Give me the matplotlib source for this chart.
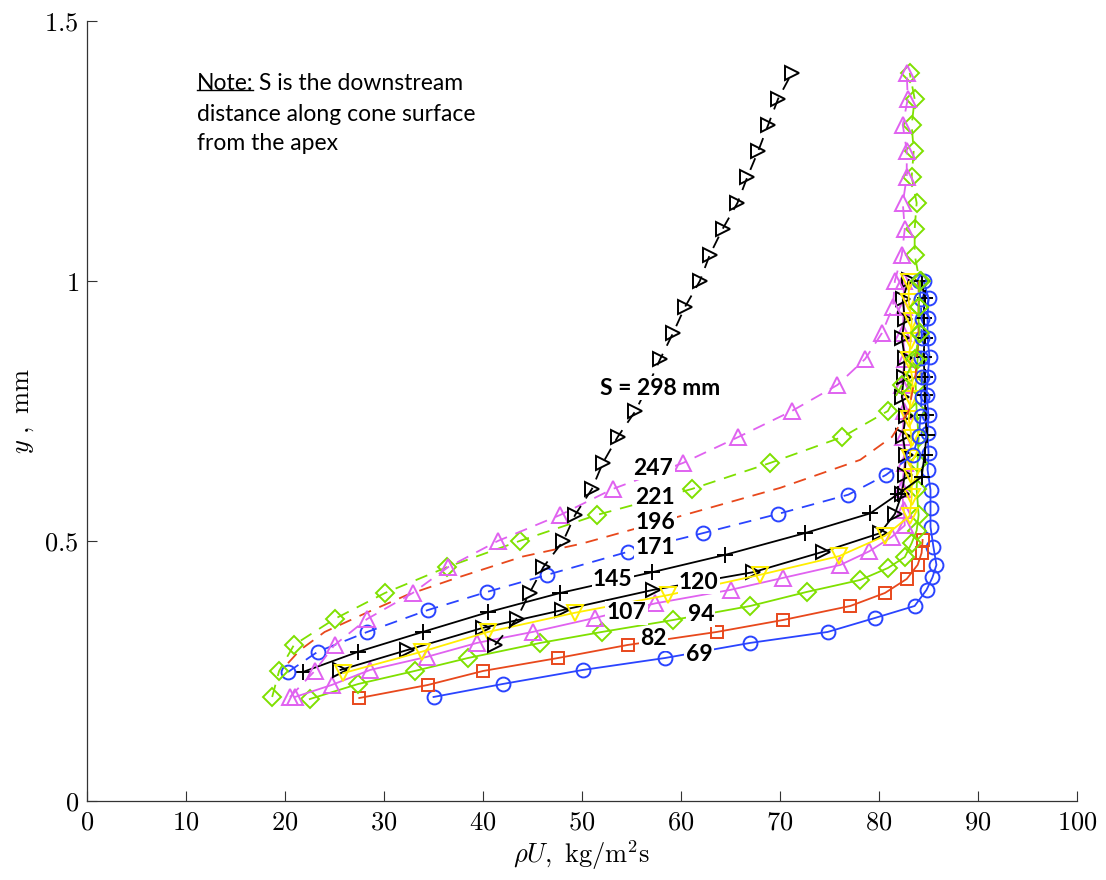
import matplotlib
matplotlib.use("Agg")
import matplotlib.pyplot as plt
from matplotlib.ticker import FuncFormatter, FixedLocator
from matplotlib.lines import Line2D

plt.rcParams['mathtext.fontset'] = 'cm'

# ---- mass-flux profiles rho*U (kg/m^2 s) versus wall distance y (mm) ----
y_69 = [0.200, 0.225, 0.252, 0.275, 0.304, 0.325, 0.352, 0.375, 0.406, 0.430, 0.454, 0.488, 0.527,
        0.563, 0.598, 0.637, 0.670, 0.708, 0.742, 0.780, 0.815, 0.854, 0.890, 0.929, 0.967, 1.000]
x_69 = [35.0, 42.0, 50.1, 58.4, 67.0, 74.8, 79.6, 83.6, 84.8, 85.4, 85.8, 85.5, 85.2,
        85.2, 85.2, 84.9, 85.0, 84.9, 85.0, 84.8, 84.9, 85.1, 84.9, 84.9, 85.0, 84.5]

y_82 = [0.198, 0.223, 0.250, 0.275, 0.300, 0.325, 0.348, 0.375, 0.400, 0.427, 0.454, 0.477, 0.502]
x_82 = [27.5, 34.4, 40.0, 47.6, 54.6, 63.6, 70.3, 77.1, 80.6, 82.8, 83.9, 84.3, 84.4]

y_94 = [0.196, 0.225, 0.250, 0.275, 0.304, 0.325, 0.348, 0.375, 0.402, 0.425, 0.448, 0.469, 0.496,
        0.520, 0.550, 0.600, 0.650, 0.700, 0.750, 0.800, 0.850, 0.900, 0.950, 1.000]
x_94 = [22.5, 27.4, 33.1, 38.5, 45.8, 52.0, 59.2, 67.0, 72.7, 78.1, 80.9, 82.6, 83.3,
        83.8, 84.0, 83.8, 83.9, 84.0, 83.8, 83.7, 83.9, 84.0, 84.0, 84.2]

y_107 = [0.200, 0.223, 0.252, 0.277, 0.304, 0.325, 0.352, 0.380, 0.406, 0.429, 0.454, 0.480, 0.508,
         0.530, 0.560, 0.600, 0.650, 0.700, 0.750, 0.800, 0.850, 0.900, 0.950, 1.000]
x_107 = [21.0, 24.7, 28.6, 34.3, 39.4, 45.0, 51.3, 57.4, 65.0, 70.3, 76.1, 79.0, 81.3,
         82.6, 82.5, 82.3, 82.6, 82.4, 82.5, 82.3, 82.6, 82.4, 82.5, 82.5]

y_120a = [0.252, 0.290, 0.333, 0.367, 0.406, 0.440, 0.479, 0.515, 0.552, 0.590, 0.627, 0.665, 0.702,
          0.740, 0.777, 0.815, 0.852, 0.890, 0.927, 0.965, 1.002]
x_120a = [25.6, 32.3, 40.0, 48.0, 57.2, 67.3, 74.3, 80.1, 81.6, 82.3, 82.6, 82.7, 82.4,
          82.7, 82.3, 82.5, 82.6, 82.3, 82.6, 82.4, 83.0]

y_120b = [0.246, 0.287, 0.325, 0.362, 0.396, 0.435, 0.471, 0.510, 0.548, 0.585, 0.623, 0.660, 0.698,
          0.735, 0.773, 0.810, 0.848, 0.885, 0.923, 0.960, 0.998]
x_120b = [25.9, 33.8, 40.5, 49.3, 58.7, 68.0, 76.0, 80.6, 83.1, 83.3, 83.3, 83.1, 83.3,
          83.0, 83.2, 83.4, 83.0, 83.2, 83.3, 83.0, 83.0]

y_145 = [0.248, 0.287, 0.325, 0.363, 0.400, 0.440, 0.473, 0.515, 0.553, 0.590, 0.623, 0.665, 0.704,
         0.742, 0.780, 0.815, 0.854, 0.890, 0.929, 0.967, 1.000]
x_145 = [21.8, 27.4, 33.9, 40.5, 47.8, 57.1, 64.4, 72.5, 79.1, 81.9, 84.3, 84.6, 84.8,
         84.7, 84.6, 84.6, 84.5, 84.6, 84.5, 84.6, 84.3]

y_171 = [0.248, 0.287, 0.325, 0.367, 0.402, 0.435, 0.479, 0.515, 0.552, 0.589, 0.627, 0.665, 0.702,
         0.740, 0.777, 0.815, 0.852, 0.890, 0.927, 0.965, 1.000]
x_171 = [20.3, 23.3, 28.3, 34.4, 40.4, 46.5, 54.6, 62.2, 69.8, 76.9, 80.7, 83.4, 84.0,
         84.2, 84.3, 84.3, 84.2, 84.3, 84.3, 84.2, 84.0]

y_196 = [0.265, 0.290, 0.325, 0.360, 0.396, 0.430, 0.470, 0.495, 0.546, 0.602, 0.656, 0.700,
         0.750, 0.820, 0.900, 1.000]
x_196 = [20.3, 21.5, 24.0, 28.0, 32.3, 37.5, 44.0, 50.0, 59.6, 70.0, 78.1, 81.3,
         83.0, 83.7, 84.0, 84.0]

y_221 = [0.20, 0.25, 0.30, 0.35, 0.40, 0.45, 0.50, 0.55, 0.60, 0.65, 0.70, 0.75, 0.80,
         0.85, 0.90, 0.95, 1.00, 1.05, 1.10, 1.15, 1.20, 1.25, 1.30, 1.35, 1.40]
x_221 = [18.7, 19.4, 20.9, 25.0, 30.1, 36.4, 43.7, 51.5, 61.1, 69.0, 76.3, 80.9, 82.3,
         83.6, 84.1, 84.0, 84.1, 83.6, 83.6, 83.8, 83.3, 83.5, 83.3, 83.6, 83.1]

y_247 = [0.20, 0.25, 0.30, 0.35, 0.40, 0.45, 0.50, 0.55, 0.60, 0.65, 0.70, 0.75, 0.80,
         0.85, 0.90, 0.95, 1.00, 1.05, 1.10, 1.15, 1.20, 1.25, 1.30, 1.35, 1.40]
x_247 = [20.5, 23.0, 25.0, 28.3, 32.9, 36.5, 41.5, 47.8, 53.1, 60.2, 65.8, 71.2, 75.8,
         78.6, 80.3, 81.4, 81.6, 82.3, 82.6, 82.4, 82.8, 82.8, 82.4, 82.9, 82.8]

y_298 = [0.30, 0.35, 0.40, 0.45, 0.50, 0.55, 0.60, 0.65, 0.70, 0.75, 0.80, 0.85,
         0.90, 0.95, 1.00, 1.05, 1.10, 1.15, 1.20, 1.25, 1.30, 1.35, 1.40]
x_298 = [41.2, 43.4, 44.7, 46.1, 48.1, 49.3, 51.0, 52.1, 53.6, 55.4, 56.7, 57.9,
         59.2, 60.4, 61.9, 62.9, 64.2, 65.7, 66.7, 67.8, 68.8, 69.8, 71.2]

# station labels (S in mm) and where they are written
station_text = ['69', '82', '94', '107', '120', '145', '171', '196', '221', '247', 'S = 298 mm']
station_x = [61.8, 57.2, 62.0, 54.5, 61.8, 53.1, 57.4, 57.4, 57.4, 57.2, 57.9]
station_y = [0.281, 0.312, 0.358, 0.362, 0.421, 0.425, 0.488, 0.535, 0.583, 0.640, 0.794]

x_ticks = [0, 10, 20, 30, 40, 50, 60, 70, 80, 90, 100]
y_ticks = [0, 0.5, 1, 1.5]

BLUE = '#2a44ff'
RED = '#e8481c'
GREEN = '#7fe000'
MAGENTA = '#e062f0'
YELLOW = '#ffee00'
BLACK = '#000000'

SOLID = '-'
DASHED = (0, (7, 5))

series = [
    (x_69, y_69, BLUE, 'o', 10, SOLID),
    (x_82, y_82, RED, 's', 8.5, SOLID),
    (x_94, y_94, GREEN, 'D', 9, SOLID),
    (x_107, y_107, MAGENTA, '^', 11, SOLID),
    (x_120a, y_120a, BLACK, '>', 10.5, SOLID),
    (x_120b, y_120b, YELLOW, 'v', 11, SOLID),
    (x_145, y_145, BLACK, '+', 11, SOLID),
    (x_171, y_171, BLUE, 'o', 10, DASHED),
    (x_196, y_196, RED, 'None', 0, DASHED),
    (x_221, y_221, GREEN, 'D', 9, DASHED),
    (x_247, y_247, MAGENTA, '^', 11, DASHED),
    (x_298, y_298, BLACK, '>', 10.5, DASHED),
]

fig = plt.figure(figsize=(11.06, 8.8), dpi=100)
ax = fig.add_axes([0.0787, 0.0898, 0.8951, 0.8864])

for i, (xs, ys, col, mk, ms, ls) in enumerate(series):
    ax.plot(xs, ys, color=col, linestyle=ls, linewidth=1.3,
            marker=mk, markersize=ms, markerfacecolor='none',
            markeredgecolor=col, markeredgewidth=1.4, zorder=2 + i * 0.1)

for s, tx, ty in zip(station_text, station_x, station_y):
    ax.text(tx, ty, s, ha='center', va='center', fontsize=16.5, fontweight='bold',
            family=['Lato', 'DejaVu Sans'], color='black', zorder=10,
            bbox=dict(facecolor='white', edgecolor='none', pad=1.0))

ax.set_xlim(0, 100)
ax.set_ylim(0, 1.5)
ax.xaxis.set_major_locator(FixedLocator(x_ticks))
ax.yaxis.set_major_locator(FixedLocator(y_ticks))
fmt = FuncFormatter(lambda v, p: r'$%g$' % v)
ax.xaxis.set_major_formatter(fmt)
ax.yaxis.set_major_formatter(fmt)
ax.tick_params(direction='in', length=7, width=0.8, labelsize=19, color='#333333', pad=6)
for side in ('top', 'right'):
    ax.spines[side].set_visible(False)
for side in ('left', 'bottom'):
    ax.spines[side].set_color('#333333')
    ax.spines[side].set_linewidth(0.9)

ax.set_xlabel(r'$\rho U,\ \mathrm{kg/m^2s}$', fontsize=19, labelpad=2)
ax.set_ylabel(r'$y\ ,\ \mathrm{mm}$', fontsize=19, labelpad=6)

# note in the upper-left corner, with underlined lead word
note_font = dict(fontsize=16.5, family=['Lato', 'DejaVu Sans'], color='black')
note = ax.text(11.1, 1.379, 'Note:', ha='left', va='center', **note_font)
ax.annotate(' S is the downstream', xy=(1, 0), xycoords=note, ha='left', va='bottom', **note_font)
ax.text(11.1, 1.321, 'distance along cone surface', ha='left', va='center', **note_font)
ax.text(11.1, 1.265, 'from the apex', ha='left', va='center', **note_font)

fig.canvas.draw()
bb = note.get_window_extent().transformed(fig.transFigure.inverted())
uy = bb.y0 + 0.005
fig.add_artist(Line2D([bb.x0, bb.x1], [uy, uy], transform=fig.transFigure,
                      color='black', linewidth=1.0))

fig.savefig('out.png', dpi=100)
